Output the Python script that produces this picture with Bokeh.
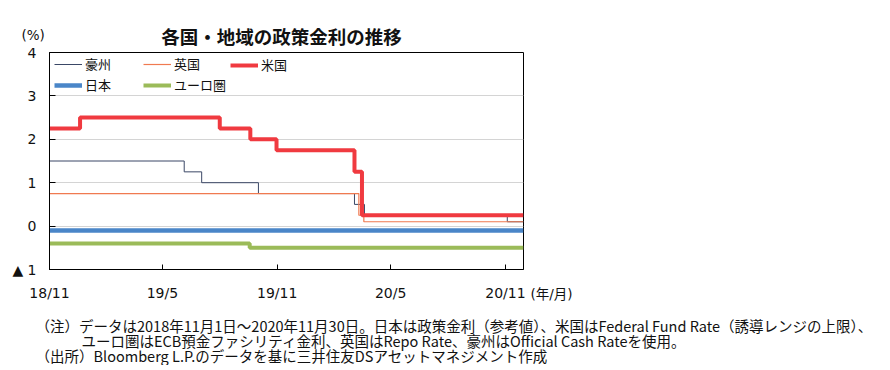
import pandas as pd
from bokeh.plotting import figure
from bokeh.models import Range1d, FixedTicker, Legend, LegendItem, GridBox
from bokeh.core.properties import value
from bokeh.embed import file_html
from bokeh.resources import INLINE

# ---- data ----
aus_dates = ["2018-11-01", "2019-06-05", "2019-07-03", "2019-10-02", "2020-03-04", "2020-03-20", "2020-11-04", "2020-11-30"]
aus_rates = [1.5, 1.25, 1.0, 0.75, 0.5, 0.25, 0.1, 0.1]
uk_dates = ["2018-11-01", "2020-03-11", "2020-03-19", "2020-11-30"]
uk_rates = [0.75, 0.25, 0.1, 0.1]
us_dates = ["2018-11-01", "2018-12-20", "2019-08-01", "2019-09-19", "2019-10-31", "2020-03-04", "2020-03-16", "2020-11-30"]
us_rates = [2.25, 2.5, 2.25, 2.0, 1.75, 1.25, 0.25, 0.25]
jp_dates = ["2018-11-01", "2020-11-30"]
jp_rates = [-0.1, -0.1]
eu_dates = ["2018-11-01", "2019-09-18", "2020-11-30"]
eu_rates = [-0.4, -0.5, -0.5]

x_start, x_end = "2018-11-01", "2020-11-30"
x_tick_dates = ["2018-11-01", "2019-05-01", "2019-11-01", "2020-05-01", "2020-11-01"]
x_tick_labels = ["18/11", "19/5", "19/11", "20/5", "20/11"]
y_ticks = [-1, 0, 1, 2, 3, 4]
y_tick_labels = ["▲ 1", "0", "1", "2", "3", "4"]

series_names = ["豪州", "英国", "米国", "日本", "ユーロ圏"]

title_text = "各国・地域の政策金利の推移"
unit_y = "(%)"
unit_x = "(年/月)"
note1 = "（注）データは2018年11月1日～2020年11月30日。日本は政策金利（参考値）、米国はFederal Fund Rate（誘導レンジの上限）、"
note2 = "ユーロ圏はECB預金ファシリティ金利、英国はRepo Rate、豪州はOfficial Cash Rateを使用。"
note3 = "（出所）Bloomberg L.P.のデータを基に三井住友DSアセットマネジメント作成"

JP = "Noto Sans CJK JP"
MIX = "DejaVu Sans, Noto Sans CJK JP"
NUM = "DejaVu Sans"
TXT = "#111111"

W, H = 890, 365
FRAME_L, FRAME_R, FRAME_T, FRAME_B = 49, 523, 52, 269


def ts(d):
    return pd.Timestamp(d)


def ms(d):
    return pd.Timestamp(d).value / 1e6


# ---- main chart (bottom layer) ----
p = figure(width=W, height=H, output_backend="svg", toolbar_location=None,
           x_axis_type="datetime",
           x_range=Range1d(ts(x_start), ts(x_end)),
           y_range=Range1d(-1, 4),
           min_border_left=FRAME_L, min_border_right=W - FRAME_R,
           min_border_top=FRAME_T, min_border_bottom=H - FRAME_B)
p.frame_align = False
p.background_fill_color = "white"
p.border_fill_color = "white"
p.outline_line_color = "black"
p.outline_line_width = 1
p.outline_line_alpha = 1.0

p.xgrid.grid_line_color = None
p.ygrid.ticker = FixedTicker(ticks=y_ticks)
p.ygrid.grid_line_color = "#d4d4d4"
p.ygrid.grid_line_width = 1

p.yaxis.ticker = FixedTicker(ticks=y_ticks)
p.yaxis.major_label_overrides = {t: l for t, l in zip(y_ticks, y_tick_labels)}
p.xaxis.ticker = FixedTicker(ticks=[ms(d) for d in x_tick_dates])
p.xaxis.major_label_overrides = {ms(d): l for d, l in zip(x_tick_dates, x_tick_labels)}
for ax in (p.xaxis, p.yaxis):
    ax.axis_line_color = "black"
    ax.major_tick_line_color = "black"
    ax.minor_tick_line_color = None
    ax.major_tick_out = 0
    ax.major_label_text_font = NUM
    ax.major_label_text_font_size = "14px"
    ax.major_label_text_color = TXT
p.yaxis.major_tick_in = 6
p.xaxis.major_tick_in = 5
p.yaxis.major_label_standoff = 13
p.xaxis.major_label_standoff = 15

r_aus = p.step(x=[ts(d) for d in aus_dates], y=aus_rates, mode="after", line_color="#3a4766", line_width=1)
r_uk = p.step(x=[ts(d) for d in uk_dates], y=uk_rates, mode="after", line_color="#F07A50", line_width=1.2)
r_us = p.step(x=[ts(d) for d in us_dates], y=us_rates, mode="after", line_color="#F03A40", line_width=4)
r_jp = p.step(x=[ts(d) for d in jp_dates], y=jp_rates, mode="after", line_color="#4A86C8", line_width=4.5)
r_eu = p.step(x=[ts(d) for d in eu_dates], y=eu_rates, mode="after", line_color="#9BBB59", line_width=4)


def make_legend(items, x, y):
    lg = Legend(items=items, location=(x, y), orientation="vertical",
                glyph_width=28, glyph_height=18, label_height=18,
                label_standoff=3, spacing=2, padding=2, margin=0,
                label_text_font=JP, label_text_font_size="13px",
                label_text_color=TXT,
                border_line_color=None, background_fill_alpha=0)
    p.add_layout(lg, "center")


make_legend([LegendItem(label=series_names[0], renderers=[r_aus]),
             LegendItem(label=series_names[3], renderers=[r_jp])], 5, 175)
make_legend([LegendItem(label=series_names[1], renderers=[r_uk]),
             LegendItem(label=series_names[4], renderers=[r_eu])], 94, 175)
make_legend([LegendItem(label=series_names[2], renderers=[r_us])], 181, 195)

# ---- transparent text layer on top (same grid cell, frame covers whole canvas) ----
tx = figure(width=W, height=H, output_backend="svg", toolbar_location=None,
            x_range=Range1d(0, W), y_range=Range1d(H, 0), min_border=0,
            x_axis_location=None, y_axis_location=None)
tx.frame_align = False
tx.grid.visible = False
tx.outline_line_color = None
tx.background_fill_color = None
tx.background_fill_alpha = 0
tx.border_fill_color = None
tx.border_fill_alpha = 0


def put(txt, x, y, size, align="left", bold=False, font=MIX):
    tx.text(x=[x], y=[y], text=[txt], text_font=value(font), text_font_size=value(size),
            text_align=align, text_baseline="middle", text_color=TXT,
            text_font_style="bold" if bold else "normal")


put(title_text, 281, 35, "18.5px", align="center", bold=True, font=JP)
put(unit_y, 21, 34, "13.5px", font=NUM)
put(unit_x, 530, 293, "13.5px")
put(note1, 35, 325, "14.5px", font=JP)
put(note2, 81, 340, "14.5px", font=JP)
put(note3, 35, 355, "14.5px", font=JP)

layout = GridBox(children=[(p, 0, 0), (tx, 0, 0)])

open("out.html", "w").write(file_html(layout, INLINE))
